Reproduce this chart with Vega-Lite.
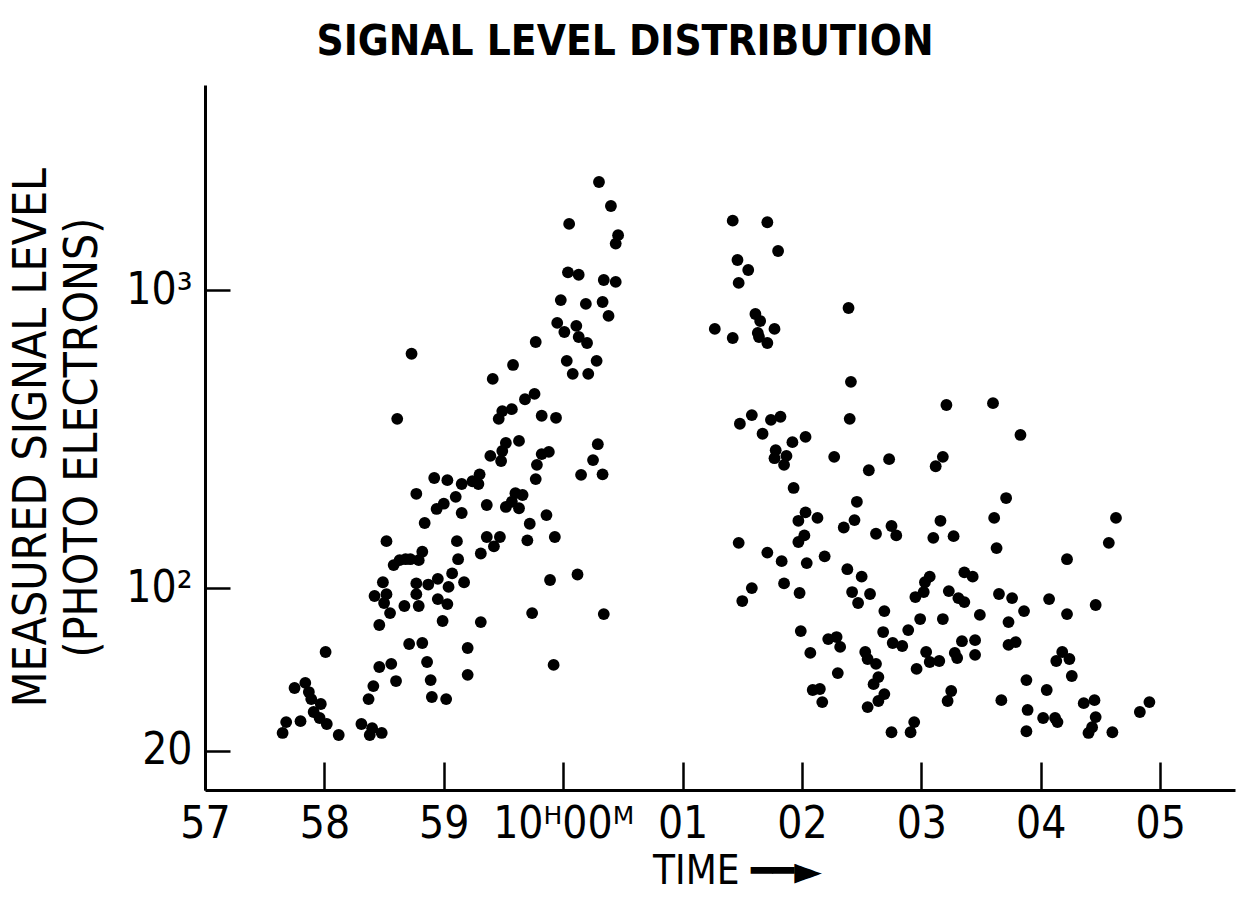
{
  "$schema": "https://vega.github.io/schema/vega-lite/v6.json",
  "width": 1030,
  "height": 705,
  "autosize": {"type": "none"},
  "padding": {"left": 205, "top": 85, "right": 11, "bottom": 109},
  "background": "white",
  "title": {
    "text": "SIGNAL LEVEL DISTRIBUTION",
    "font": "DejaVu Sans Condensed, sans-serif",
    "fontSize": 42,
    "fontWeight": "bold",
    "color": "black",
    "anchor": "middle",
    "dx": -95,
    "dy": 45,
    "baseline": "alphabetic",
    "offset": 33
  },
  "config": {
    "view": {"stroke": null},
    "axis": {
      "grid": false,
      "domainColor": "black",
      "domainWidth": 3,
      "tickColor": "black",
      "tickWidth": 2.5,
      "labelColor": "black",
      "titleColor": "black",
      "labelFont": "DejaVu Sans Condensed, sans-serif",
      "titleFont": "DejaVu Sans Condensed, sans-serif",
      "labelFontSize": 44,
      "titleFontSize": 44,
      "titleFontWeight": "normal"
    }
  },
  "data": {
    "values": [
      {"t":-1.27,"v":622},{"t":-1.39,"v":381},{"t":-1.08,"v":242},{"t":-0.97,"v":238},{"t":-1.23,"v":214},
      {"t":-0.90,"v":209},{"t":-1.00,"v":198},{"t":-1.06,"v":190},{"t":-0.85,"v":184},{"t":-1.16,"v":170},
      {"t":-1.48,"v":147},{"t":-0.89,"v":147},{"t":-1.18,"v":135},{"t":-1.21,"v":126},{"t":-1.28,"v":127},
      {"t":-1.32,"v":127},{"t":-1.37,"v":126},{"t":-1.42,"v":121},{"t":-0.88,"v":127},{"t":-0.93,"v":113},
      {"t":-1.05,"v":108},{"t":-1.13,"v":103},{"t":-1.23,"v":104},{"t":-0.96,"v":101},{"t":-1.51,"v":105},
      {"t":-1.48,"v":95},{"t":-1.58,"v":93.5},{"t":-1.50,"v":88.1},{"t":-1.23,"v":95},{"t":-1.05,"v":91.1},
      {"t":-0.97,"v":87.3},{"t":-1.33,"v":85.9},{"t":-1.21,"v":85.9},{"t":-1.45,"v":80.8},{"t":-1.01,"v":75.4},
      {"t":-1.54,"v":72.8},{"t":-1.29,"v":61.4},{"t":-1.18,"v":62},{"t":-1.99,"v":57.1},{"t":-1.14,"v":52},
      {"t":-1.54,"v":49.6},{"t":-1.44,"v":51.1},{"t":-1.40,"v":43.3},{"t":-1.59,"v":41.2},{"t":-1.11,"v":43.7},
      {"t":-1.63,"v":36.1},{"t":-1.10,"v":36.9},{"t":-0.98,"v":36.1},{"t":-2.25,"v":40.4},{"t":-2.16,"v":42.5},
      {"t":-2.13,"v":38.8},{"t":-2.11,"v":36.1},{"t":-2.03,"v":34.3},{"t":-2.09,"v":31.5},{"t":-2.04,"v":29.5},
      {"t":-1.98,"v":27.6},{"t":-2.32,"v":28.2},{"t":-2.20,"v":28.5},{"t":-2.35,"v":24.9},{"t":-1.88,"v":24.3},
      {"t":-1.69,"v":27.6},{"t":-1.60,"v":26.3},{"t":-1.62,"v":24.3},{"t":-1.52,"v":24.9},
      {"t":-0.48,"v":317},{"t":-0.37,"v":322},{"t":0.29,"v":314},{"t":-0.61,"v":287},{"t":-0.51,"v":298},
      {"t":-0.52,"v":276},{"t":-0.18,"v":291},{"t":-0.12,"v":296},{"t":-0.22,"v":268},{"t":0.25,"v":278},
      {"t":0.15,"v":248},{"t":0.33,"v":249},{"t":-0.23,"v":240},{"t":-0.85,"v":231},{"t":-0.76,"v":236},
      {"t":-0.70,"v":249},{"t":-0.71,"v":231},{"t":-0.64,"v":196},{"t":-0.40,"v":215},{"t":-0.34,"v":212},
      {"t":-0.48,"v":193},{"t":-0.37,"v":191},{"t":-0.43,"v":201},{"t":-0.14,"v":181},{"t":-0.28,"v":169},
      {"t":-0.30,"v":148},{"t":-0.07,"v":152},{"t":-0.64,"v":152},{"t":-0.53,"v":152},{"t":-0.58,"v":141},
      {"t":-0.69,"v":133},{"t":-0.83,"v":105},{"t":-0.69,"v":74.7},{"t":-0.11,"v":107},{"t":0.12,"v":112},
      {"t":-0.26,"v":80.8},{"t":0.34,"v":80.1},{"t":-0.80,"v":59.2},{"t":-0.80,"v":46},{"t":-0.08,"v":50.6},
      {"t":0.30,"v":2220},{"t":0.40,"v":1860},{"t":0.05,"v":1630},{"t":0.46,"v":1500},{"t":0.44,"v":1410},
      {"t":0.04,"v":1140},{"t":0.13,"v":1120},{"t":0.34,"v":1077},{"t":0.44,"v":1062},{"t":-0.02,"v":928},
      {"t":0.19,"v":902},{"t":0.33,"v":915},{"t":0.38,"v":825},{"t":-0.05,"v":783},{"t":0.01,"v":732},
      {"t":0.11,"v":766},{"t":0.13,"v":705},{"t":0.20,"v":674},{"t":-0.23,"v":679},{"t":0.03,"v":590},
      {"t":0.28,"v":590},{"t":0.08,"v":535},{"t":0.21,"v":535},{"t":-0.42,"v":572},{"t":-0.59,"v":515},
      {"t":-0.24,"v":460},{"t":-0.32,"v":442},{"t":-0.43,"v":410},{"t":-0.51,"v":404},{"t":-0.54,"v":381},
      {"t":-0.18,"v":390},{"t":-0.06,"v":384},
      {"t":1.42,"v":1670},{"t":1.71,"v":1650},{"t":1.80,"v":1335},{"t":1.46,"v":1249},{"t":1.55,"v":1160},
      {"t":1.47,"v":1054},{"t":2.39,"v":875},{"t":1.61,"v":837},{"t":1.65,"v":794},{"t":1.27,"v":749},
      {"t":1.42,"v":700},{"t":1.63,"v":727},{"t":1.64,"v":705},{"t":1.77,"v":749},{"t":1.71,"v":674},
      {"t":2.41,"v":504},{"t":2.40,"v":381},{"t":1.48,"v":367},{"t":1.58,"v":392},{"t":1.74,"v":378},
      {"t":1.82,"v":387},{"t":1.67,"v":340},{"t":1.92,"v":319},{"t":2.03,"v":332},{"t":1.78,"v":300},
      {"t":1.77,"v":282},{"t":1.87,"v":287},{"t":1.85,"v":268},{"t":2.27,"v":285},{"t":2.56,"v":257},
      {"t":2.73,"v":280},{"t":1.93,"v":224},
      {"t":3.21,"v":423},{"t":3.60,"v":429},{"t":3.18,"v":285},{"t":3.12,"v":265},{"t":2.46,"v":201},
      {"t":2.03,"v":185},{"t":1.97,"v":173},{"t":2.13,"v":177},{"t":2.44,"v":174},{"t":2.35,"v":164},
      {"t":2.02,"v":154},{"t":1.97,"v":146},{"t":2.62,"v":156},{"t":2.75,"v":166},{"t":2.79,"v":154},
      {"t":3.16,"v":173},{"t":3.10,"v":151},{"t":3.27,"v":153},{"t":3.61,"v":177},{"t":3.63,"v":139},
      {"t":1.83,"v":125},{"t":2.04,"v":123},{"t":2.19,"v":130},{"t":1.85,"v":104},{"t":1.98,"v":95.9},
      {"t":2.38,"v":117},{"t":2.50,"v":110},{"t":2.42,"v":96.7},{"t":2.57,"v":95.1},{"t":2.47,"v":88.1},
      {"t":2.69,"v":82.2},{"t":3.03,"v":105},{"t":3.07,"v":110},{"t":3.02,"v":96.7},{"t":2.95,"v":92.7},
      {"t":3.36,"v":114},{"t":3.43,"v":110},{"t":3.23,"v":97.5},{"t":3.31,"v":91.9},{"t":3.36,"v":88.8},
      {"t":3.65,"v":95.1},{"t":2.99,"v":76.7},{"t":3.18,"v":76.7},{"t":3.49,"v":79.5},{"t":1.99,"v":69},
      {"t":2.22,"v":64.2},{"t":2.29,"v":65.4},{"t":2.32,"v":59.8},{"t":2.68,"v":68.4},{"t":2.89,"v":69.6},
      {"t":2.76,"v":62},{"t":2.84,"v":60.3},{"t":2.07,"v":56.6},{"t":2.53,"v":57.1},{"t":2.55,"v":53.5},
      {"t":2.62,"v":51.1},{"t":3.04,"v":57.1},{"t":3.07,"v":52},{"t":3.15,"v":52.5},{"t":3.28,"v":56.6},
      {"t":3.30,"v":54},{"t":3.34,"v":63},{"t":3.45,"v":63.6},{"t":3.45,"v":55.6},{"t":2.96,"v":48.7},
      {"t":2.30,"v":46.8},{"t":2.64,"v":45},{"t":2.60,"v":42},{"t":2.09,"v":39.6},{"t":2.15,"v":40},
      {"t":2.17,"v":35},{"t":2.69,"v":38},{"t":2.64,"v":35.4},{"t":2.55,"v":33.2},{"t":3.25,"v":39.2},
      {"t":3.22,"v":35.4},{"t":2.94,"v":28.2},{"t":2.91,"v":25.1},{"t":2.75,"v":25.1},{"t":3.67,"v":35.7},
      {"t":3.83,"v":337},{"t":3.71,"v":207},{"t":4.63,"v":177},{"t":4.57,"v":145},{"t":4.22,"v":127},
      {"t":3.76,"v":91.9},{"t":4.07,"v":91.1},{"t":4.46,"v":86.6},{"t":3.86,"v":82.2},{"t":4.22,"v":80.1},
      {"t":3.73,"v":74.7},{"t":3.73,"v":60.9},{"t":3.79,"v":62.5},{"t":4.18,"v":57.1},{"t":4.13,"v":52.5},
      {"t":4.24,"v":53.5},{"t":4.26,"v":45.5},{"t":3.88,"v":43.7},{"t":4.05,"v":39.6},{"t":3.89,"v":32.2},
      {"t":4.02,"v":29.5},{"t":4.12,"v":29.5},{"t":4.14,"v":28.2},{"t":4.36,"v":34.6},{"t":4.45,"v":35.7},
      {"t":4.46,"v":29.8},{"t":4.43,"v":26.6},{"t":4.40,"v":24.9},{"t":4.60,"v":25.1},{"t":3.88,"v":25.4},
      {"t":4.83,"v":31.5},{"t":4.91,"v":35},
      {"t":1.47,"v":145},{"t":1.71,"v":134},{"t":1.58,"v":100},{"t":1.50,"v":89.6}
    ]
  },
  "mark": {"type": "circle", "color": "black", "opacity": 1, "size": 140},
  "encoding": {
    "x": {
      "field": "t",
      "type": "quantitative",
      "scale": {"domain": [-3, 5.627], "nice": false, "zero": false},
      "axis": {
        "values": [-3, -2, -1, 0, 1, 2, 3, 4, 5],
        "labelExpr": "datum.value == -3 ? '57' : datum.value == -2 ? '58' : datum.value == -1 ? '59' : datum.value == 0 ? '10ᴴ00ᴹ' : '0' + datum.value",
        "tickSize": -28,
        "labelPadding": 40,
        "labelBaseline": "top",
        "labelAlign": "center",
        "labelFlush": false,
        "labelOverlap": false,
        "title": "TIME ━━►",
        "titleX": 532,
        "titleY": 81,
        "titleBaseline": "middle",
        "titleAlign": "center",
        "titleFontSize": 40
      }
    },
    "y": {
      "field": "v",
      "type": "quantitative",
      "scale": {"type": "symlog", "constant": 15, "domain": [11.3, 4524], "nice": false, "zero": false},
      "axis": {
        "values": [20, 100, 1000],
        "labelExpr": "datum.value == 20 ? '20' : datum.value == 100 ? '10²' : '10³'",
        "tickSize": -25,
        "labelPadding": 38,
        "labelBaseline": "middle",
        "labelAlign": "right",
        "labelOverlap": false,
        "labelFlush": false,
        "title": ["MEASURED SIGNAL LEVEL", "(PHOTO ELECTRONS)"],
        "titleAngle": -90,
        "titleX": -174,
        "titleY": 352,
        "titleAlign": "center",
        "titleBaseline": "middle",
        "titleLineHeight": 51,
        "titleFontSize": 46
      }
    }
  }
}
